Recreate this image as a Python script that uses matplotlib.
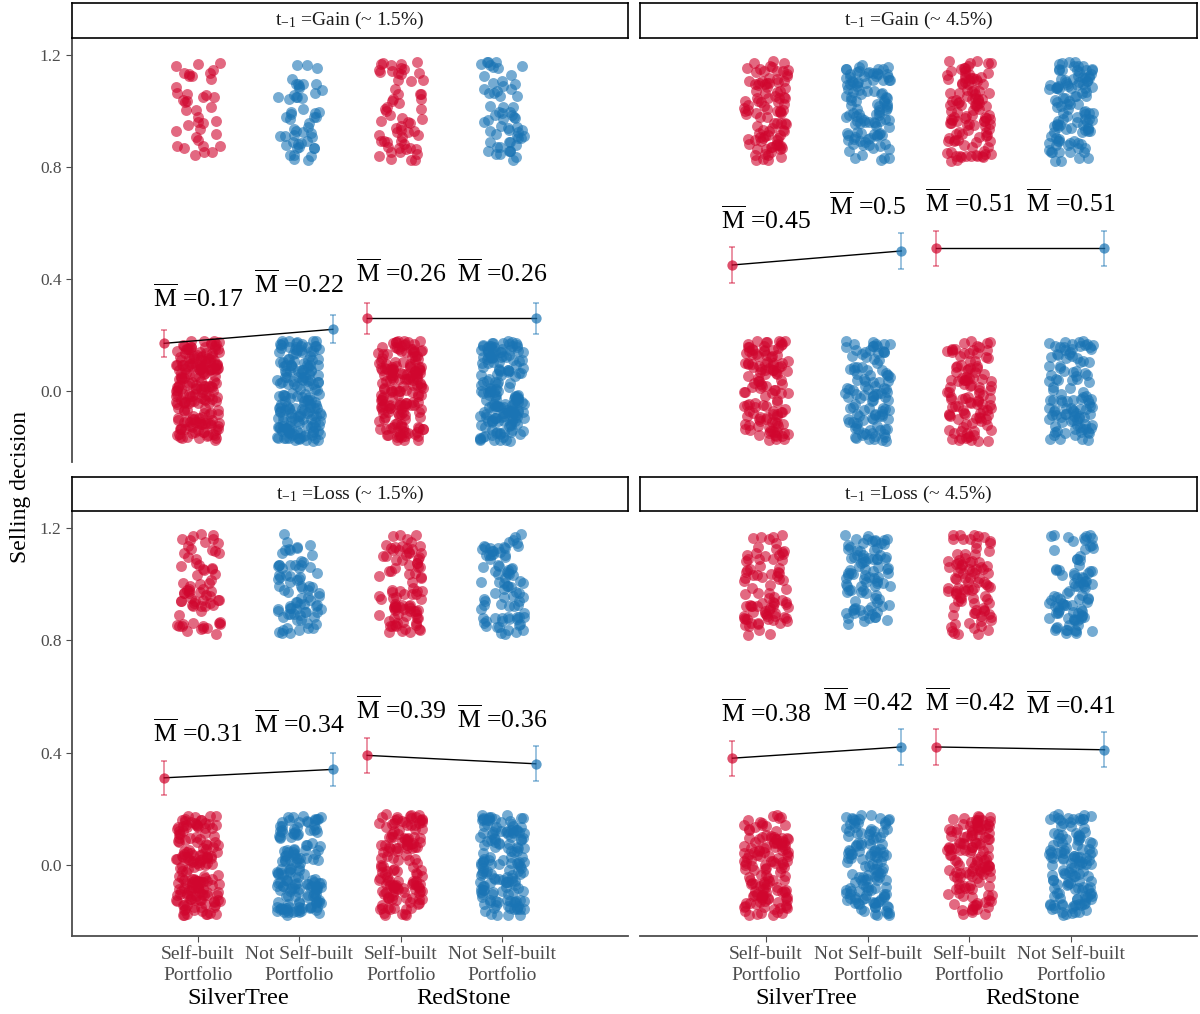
import numpy as np
import matplotlib
matplotlib.use("Agg")
import matplotlib.pyplot as plt

plt.rcParams["font.family"] = ["Liberation Serif", "DejaVu Serif"]
plt.rcParams["mathtext.fontset"] = "custom"
plt.rcParams["mathtext.rm"] = "Liberation Serif"
plt.rcParams["mathtext.it"] = "Liberation Serif:italic"

# -------- DATA --------
brands = ["SilverTree", "RedStone"]
portfolio = ["Self-built\nPortfolio", "Not Self-built\nPortfolio"]
panel_titles = [
    r"t$_{-1}$ =Gain (~ 1.5%)",
    r"t$_{-1}$ =Gain (~ 4.5%)",
    r"t$_{-1}$ =Loss (~ 1.5%)",
    r"t$_{-1}$ =Loss (~ 4.5%)",
]

# mean selling rate per cell (ST self, ST not self, RS self, RS not self)
mean_gain_15 = [0.17, 0.22, 0.26, 0.26]
mean_gain_45 = [0.45, 0.50, 0.51, 0.51]
mean_loss_15 = [0.31, 0.34, 0.39, 0.36]
mean_loss_45 = [0.38, 0.42, 0.42, 0.41]

# half width of the confidence interval
ci_gain_15 = [0.048, 0.050, 0.055, 0.055]
ci_gain_45 = [0.065, 0.063, 0.063, 0.063]
ci_loss_15 = [0.060, 0.060, 0.062, 0.062]
ci_loss_45 = [0.062, 0.065, 0.065, 0.063]

# number of sell (1) / hold (0) decisions per cell
sell_gain_15 = [39, 51, 60, 60]
hold_gain_15 = [191, 179, 170, 170]
sell_gain_45 = [99, 110, 112, 112]
hold_gain_45 = [121, 110, 108, 108]
sell_loss_15 = [71, 78, 90, 83]
hold_loss_15 = [159, 152, 140, 147]
sell_loss_45 = [84, 92, 92, 90]
hold_loss_45 = [136, 128, 128, 130]

means = [mean_gain_15, mean_gain_45, mean_loss_15, mean_loss_45]
cis = [ci_gain_15, ci_gain_45, ci_loss_15, ci_loss_45]
sells = [sell_gain_15, sell_gain_45, sell_loss_15, sell_loss_45]
holds = [hold_gain_15, hold_gain_45, hold_loss_15, hold_loss_45]

RED = "#D0062E"
BLUE = "#1A74B4"
GREY = "#4D4D4D"
colors = [RED, BLUE, RED, BLUE]
xpos = np.array([1, 2, 3, 4])
offset = np.array([-0.33, 0.33, -0.33, 0.33])
brand_x = [1.4, 3.62]

fig = plt.figure(figsize=(12, 10.14), dpi=100)

rects = [
    (0.060, 0.5444, 0.4633, 0.4181),
    (0.5333, 0.5444, 0.4642, 0.4181),
    (0.060, 0.0769, 0.4633, 0.4191),
    (0.5333, 0.0769, 0.4642, 0.4191),
]
strips = [
    (0.060, 0.9625, 0.4633, 0.0345),
    (0.5333, 0.9625, 0.4642, 0.0345),
    (0.060, 0.4961, 0.4633, 0.0335),
    (0.5333, 0.4961, 0.4642, 0.0335),
]

rng = np.random.default_rng(7)

for i in range(4):
    ax = fig.add_axes(rects[i])
    left = i % 2 == 0
    bottom = i >= 2

    # jittered raw decisions
    for j in range(4):
        for val, n in ((1.0, sells[i][j]), (0.0, holds[i][j])):
            jx = xpos[j] + rng.uniform(-0.22, 0.22, n)
            jy = val + rng.uniform(-0.18, 0.18, n)
            ax.scatter(jx, jy, s=62, color=colors[j], alpha=0.6,
                       linewidths=0, zorder=2)

    # means, intervals and connecting lines
    mx = xpos + offset
    m = np.array(means[i])
    for g in range(2):
        sl = slice(2 * g, 2 * g + 2)
        ax.plot(mx[sl], m[sl], color="black", lw=1, zorder=4)
    for j in range(4):
        ax.errorbar(mx[j], m[j], yerr=cis[i][j], fmt="none",
                    ecolor=colors[j], alpha=0.55, elinewidth=1.1,
                    capsize=2.5, capthick=1.1, zorder=3)
        ax.scatter(mx[j], m[j], s=55, color=colors[j], alpha=0.7,
                   linewidths=0, zorder=5)
        ax.text(xpos[j], m[j] + 0.13, r"$\overline{\mathrm{M}}$ =" + f"{m[j]:g}",
                ha="center", va="baseline", fontsize=18.5, zorder=6)

    ax.set_xlim(-0.24, 5.24)
    ax.set_ylim(-0.254, 1.261)

    for sp in ax.spines.values():
        sp.set_visible(False)
    ax.spines["left"].set_visible(left)
    ax.spines["bottom"].set_visible(bottom)
    for side in ("left", "bottom"):
        ax.spines[side].set_color(GREY)
        ax.spines[side].set_linewidth(1.3)

    ax.set_yticks([0.0, 0.4, 0.8, 1.2])
    ax.set_xticks(xpos)
    ax.tick_params(axis="y", left=left, labelleft=left, length=4,
                   color=GREY, labelcolor=GREY, labelsize=12.5)
    ax.tick_params(axis="x", bottom=bottom, labelbottom=bottom, length=4,
                   color=GREY, labelcolor=GREY, labelsize=14, pad=3)
    if left:
        ax.set_yticklabels(["0.0", "0.4", "0.8", "1.2"])
    if bottom:
        ax.set_xticklabels(portfolio * 2, linespacing=1.3)
        for g, name in enumerate(brands):
            ax.text(brand_x[g], -0.148, name, transform=ax.get_xaxis_transform(),
                    ha="center", va="center", fontsize=17.5)

    # facet strip
    st = fig.add_axes(strips[i])
    st.set_xticks([])
    st.set_yticks([])
    for sp in st.spines.values():
        sp.set_color("black")
        sp.set_linewidth(1.2)
    st.text(0.5, 0.5, panel_titles[i], ha="center", va="center",
            fontsize=14, color="#1A1A1A", transform=st.transAxes)

fig.text(0.017, 0.52, "Selling decision", rotation=90, ha="center",
         va="center", fontsize=17)

fig.savefig("out.png", dpi=100)
